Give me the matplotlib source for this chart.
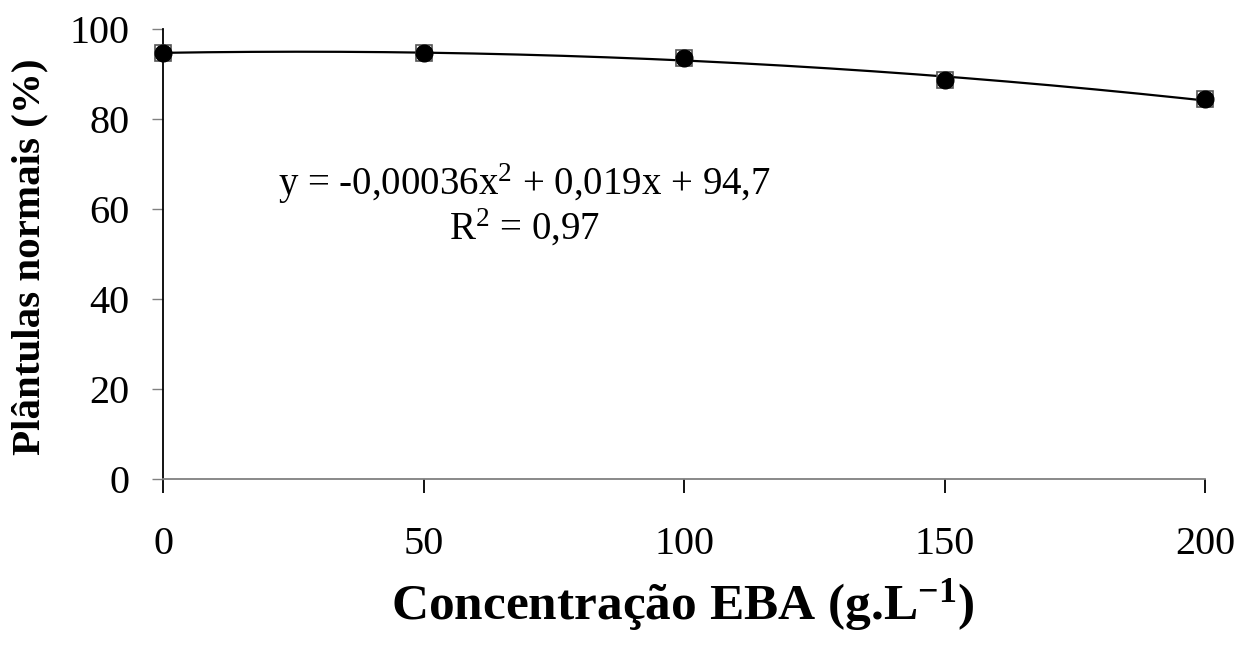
import matplotlib.pyplot as plt
import numpy as np

plt.rcParams['font.family'] = 'Liberation Serif'
plt.rcParams['mathtext.fontset'] = 'custom'
plt.rcParams['mathtext.rm'] = 'Liberation Serif'
plt.rcParams['mathtext.it'] = 'Liberation Serif'
plt.rcParams['mathtext.bf'] = 'Liberation Serif:bold'

# dados
concentracao = [0, 50, 100, 150, 200]
plantulas = [94.7, 94.6, 93.6, 88.7, 84.4]
# coeficientes da linha de tendencia (como aparece no grafico)
coef = [-0.00036, 0.019, 94.7]
eq_txt = "y = -0,00036x$^{2}$ + 0,019x + 94,7"
r2_txt = "R$^{2}$ = 0,97"
xticks = [0, 50, 100, 150, 200]
yticks = [0, 20, 40, 60, 80, 100]

W, H = 1239, 645
fig = plt.figure(figsize=(W / 100, H / 100), dpi=100)
ax = fig.add_axes([163 / W, 1 - 479 / H, (1205 - 163) / W, (479 - 29) / H])

xs = np.linspace(0, 200, 400)
ax.plot(xs, np.polyval(coef, xs), color='black', lw=1.6, zorder=2)

ax.plot(concentracao, plantulas, linestyle='none', marker='s', markersize=11,
        markerfacecolor='white', markeredgecolor='#555555', markeredgewidth=1.2,
        zorder=3, clip_on=False)
ax.plot(concentracao, plantulas, linestyle='none', marker='o', markersize=12,
        color='black', zorder=4, clip_on=False)

ax.set_xlim(0, 200)
ax.set_ylim(0, 100)
ax.set_xticks(xticks)
ax.set_yticks(yticks)
ax.spines['top'].set_visible(False)
ax.spines['right'].set_visible(False)
ax.spines['bottom'].set_color('#808080')
ax.spines['bottom'].set_linewidth(1.3)
ax.spines['left'].set_linewidth(1.3)
ax.tick_params(axis='x', direction='out', length=10, width=1.3, pad=24,
               labelsize=29, color='black')
ax.tick_params(axis='y', direction='out', length=8, width=1.0, pad=16,
               labelsize=29, color='#808080')

fig.text(683 / W, 1 - 605 / H, "Concentração EBA (g.L$^{\\mathbf{-1}}$)",
         fontsize=37, fontweight='bold', ha='center', va='center')
fig.text(30 / W, 1 - 257 / H, "Plântulas normais (%)", fontsize=29.5,
         fontweight='bold', ha='center', va='center', rotation=90)

fig.text(278 / W, 1 - 195 / H, eq_txt, fontsize=28, ha='left', va='baseline')
fig.text(449 / W, 1 - 240 / H, r2_txt, fontsize=28, ha='left', va='baseline')

plt.savefig('out.png', dpi=100)
